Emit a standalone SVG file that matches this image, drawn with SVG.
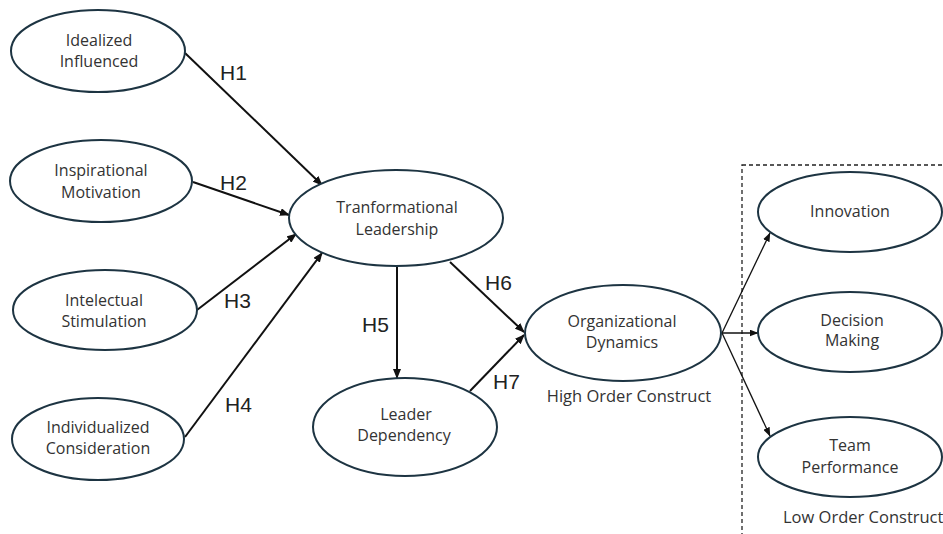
<svg xmlns="http://www.w3.org/2000/svg" width="943" height="534" viewBox="0 0 943 534">
<defs>
<marker id="ah" markerWidth="10" markerHeight="8" refX="9" refY="4" orient="auto" markerUnits="userSpaceOnUse"><path d="M0,0 L10,4 L0,8 Z" fill="#111"/></marker>
<marker id="ahs" markerWidth="9" markerHeight="7" refX="8.5" refY="3.5" orient="auto" markerUnits="userSpaceOnUse"><path d="M0,0 L9,3.5 L0,7 Z" fill="#111"/></marker>
</defs>
<style>
.n ellipse{fill:#fff;stroke:#1d3442;stroke-width:2}
.t{font-family:"Open Sans","Liberation Sans",sans-serif;font-size:16px;fill:#333;text-anchor:middle}
.h{font-family:"Liberation Sans",Arial,sans-serif;font-size:21px;fill:#222}
.c line{stroke:#111;stroke-width:2;marker-end:url(#ah)}
.c line.s{stroke-width:1.3;marker-end:url(#ahs)}
.lbl{font-family:"Open Sans","Liberation Sans",sans-serif;font-size:16.5px;fill:#333}
</style>
<rect width="943" height="534" fill="#fff"/>
<rect x="742" y="165" width="220" height="400" fill="none" stroke="#222" stroke-width="1.3" stroke-dasharray="4,3"/>
<g class="c">
<line x1="185" y1="53" x2="322" y2="185"/>
<line x1="193" y1="182" x2="289" y2="215"/>
<line x1="197" y1="310" x2="296" y2="234"/>
<line x1="185" y1="437" x2="322" y2="253"/>
<line x1="397" y1="267" x2="397" y2="378"/>
<line x1="450" y1="262" x2="524" y2="332"/>
<line x1="470" y1="391" x2="524" y2="335"/>
<line class="s" x1="722" y1="333" x2="770" y2="233"/>
<line class="s" x1="722" y1="333" x2="758" y2="333"/>
<line class="s" x1="722" y1="333" x2="770" y2="436"/>
</g>
<text class="h" x="220" y="80">H1</text>
<text class="h" x="220" y="190">H2</text>
<text class="h" x="224" y="308">H3</text>
<text class="h" x="225" y="412">H4</text>
<text class="h" x="362" y="332">H5</text>
<text class="h" x="485" y="290">H6</text>
<text class="h" x="493" y="389">H7</text>
<g id="idealized" class="n"><ellipse cx="98" cy="51" rx="87" ry="41"/><text class="t" x="99" y="46">Idealized</text><text class="t" x="99" y="67">Influenced</text></g>
<g id="inspirational" class="n"><ellipse cx="101" cy="181" rx="91" ry="41"/><text class="t" x="101" y="176">Inspirational</text><text class="t" x="101" y="198">Motivation</text></g>
<g id="intelectual" class="n"><ellipse cx="105" cy="310" rx="92" ry="40"/><text class="t" x="104" y="306">Intelectual</text><text class="t" x="104" y="327">Stimulation</text></g>
<g id="individualized" class="n"><ellipse cx="98" cy="439" rx="86" ry="41"/><text class="t" x="98" y="433">Individualized</text><text class="t" x="98" y="454">Consideration</text></g>
<g id="transformational" class="n"><ellipse cx="396" cy="218" rx="107" ry="48"/><text class="t" x="397" y="213">Tranformational</text><text class="t" x="397" y="235">Leadership</text></g>
<g id="leader" class="n"><ellipse cx="405" cy="427" rx="92" ry="49"/><text class="t" x="406" y="420">Leader</text><text class="t" x="404" y="441">Dependency</text></g>
<g id="organizational" class="n"><ellipse cx="623" cy="333" rx="98" ry="48"/><text class="t" x="622" y="327">Organizational</text><text class="t" x="622" y="348">Dynamics</text><text class="t" x="629" y="402" style="font-size:16.5px">High Order Construct</text></g>
<g id="innovation" class="n"><ellipse cx="850" cy="212" rx="92" ry="40"/><text class="t" x="850" y="217">Innovation</text></g>
<g id="decision" class="n"><ellipse cx="850" cy="332" rx="92" ry="40"/><text class="t" x="852" y="326">Decision</text><text class="t" x="852" y="346">Making</text></g>
<g id="team" class="n"><ellipse cx="850" cy="457" rx="92" ry="40"/><text class="t" x="850" y="451">Team</text><text class="t" x="850" y="473">Performance</text></g>
<text class="lbl" x="783" y="523">Low Order Construct</text>
</svg>
